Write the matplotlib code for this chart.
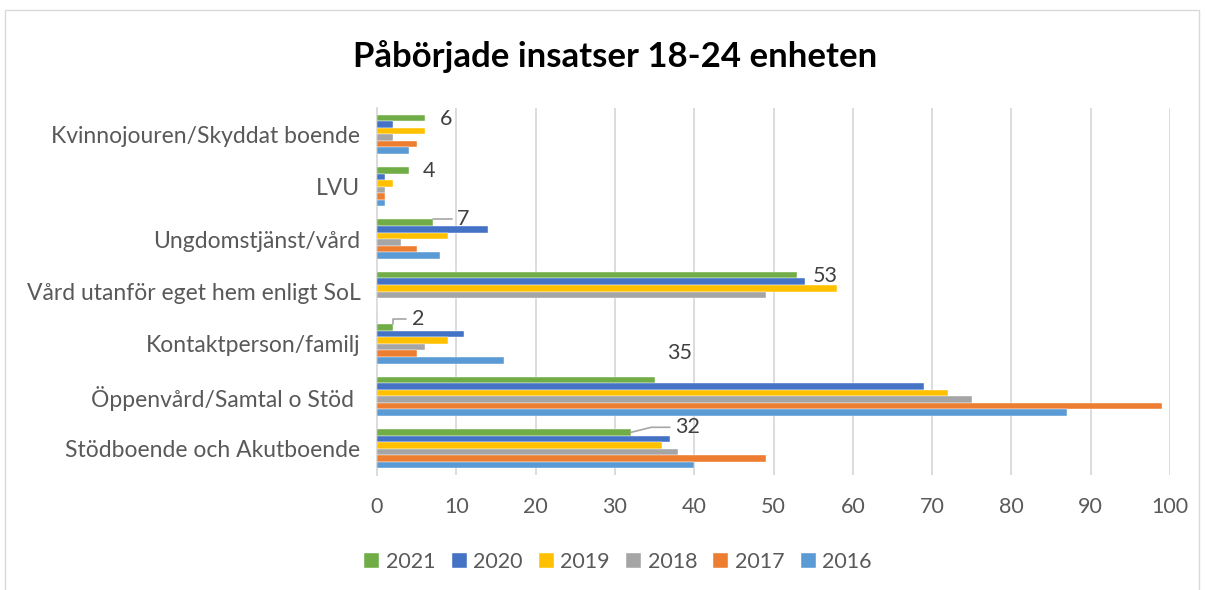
import numpy as np
import matplotlib
matplotlib.use("Agg")
import matplotlib.pyplot as plt
from matplotlib.patches import Rectangle

# ---- data -------------------------------------------------------------------
CATEGORIES = ["Stödboende och Akutboende", "Öppenvård/Samtal o Stöd ",
              "Kontaktperson/familj", "Vård utanför eget hem enligt SoL",
              "Ungdomstjänst/vård", "LVU", "Kvinnojouren/Skyddat boende"]
YEARS = ["2021", "2020", "2019", "2018", "2017", "2016"]
V2021 = [32, 35, 2, 53, 7, 4, 6]
V2020 = [37, 69, 11, 54, 14, 1, 2]
V2019 = [36, 72, 9, 58, 9, 2, 6]
V2018 = [38, 75, 6, 49, 3, 1, 2]
V2017 = [49, 99, 5, 0, 5, 1, 5]
V2016 = [40, 87, 16, 0, 8, 1, 4]
XTICKS = list(range(0, 101, 10))

# ---- style --------------------------------------------------------------------
COLORS = ["#70AD47", "#4472C4", "#FFC000", "#A5A5A5", "#ED7D31", "#5B9BD5"]
TEXT = "#595959"
FONT = "Lato"
# where Excel dragged the 2021 labels to (data coords), and leader style
LABEL_POS = [(39.2, 0.41), (38.1, 1.82), (5.2, 2.47), (56.5, 3.29),
             (10.9, 4.38), (6.6, 5.30), (8.7, 6.29)]
LEADER = [14, None, 90, None, 90, None, None]

plt.rcParams["font.family"] = [FONT, "DejaVu Sans"]

fig = plt.figure(figsize=(12.05, 5.9), dpi=100)
ax = fig.add_axes([377 / 1205, 1 - 475 / 590, (1170 - 377) / 1205, 367 / 590])

series = [V2021, V2020, V2019, V2018, V2017, V2016]
y = np.arange(len(CATEGORIES))
h = 0.125
for i, (vals, col, yr) in enumerate(zip(series, COLORS, YEARS)):
    ax.barh(y + (2.5 - i) * h, vals, height=h, color=col, label=yr,
            edgecolor="white", linewidth=0.3, zorder=3)

# data labels for 2021
for j, v in enumerate(V2021):
    tx, ty = LABEL_POS[j]
    by = y[j] + 2.5 * h
    if LEADER[j] is None:
        ax.text(tx, ty, str(v), ha="center", va="center", fontsize=15.5,
                color="#404040")
    else:
        ax.annotate(str(v), xy=(v, by + h / 2 if LEADER[j] == 90 else by),
                    xytext=(tx, ty), ha="center", va="center", fontsize=15.5,
                    color="#404040",
                    arrowprops=dict(arrowstyle="-", color="#A6A6A6", lw=1.2,
                                    relpos=(0, 0.5), shrinkA=2, shrinkB=0,
                                    connectionstyle="angle,angleA=0,angleB=%d,rad=0"
                                    % LEADER[j]))

ax.set_xlim(0, 100)
ax.set_ylim(-0.5, len(CATEGORIES) - 0.5)
ax.set_xticks(XTICKS)
ax.set_yticks(y)
ax.set_yticklabels(CATEGORIES)
ax.tick_params(axis="x", length=0, pad=16, labelsize=15.5, labelcolor=TEXT)
ax.tick_params(axis="y", length=0, pad=12, labelsize=16.5, labelcolor=TEXT)
ax.grid(axis="x", color="#D9D9D9", lw=1.3, zorder=0)
for s in ["top", "right", "bottom"]:
    ax.spines[s].set_visible(False)
ax.spines["left"].set_color("#D9D9D9")
ax.spines["left"].set_linewidth(1.3)

fig.text(615 / 1205, 1 - 57 / 590, "Påbörjade insatser 18-24 enheten",
         ha="center", va="center", fontsize=25, fontweight="bold",
         color="black")

fig.legend(loc="center", bbox_to_anchor=(618 / 1205, 1 - 562 / 590), ncol=6,
           frameon=False, fontsize=15.5, labelcolor=TEXT, handlelength=0.7,
           handleheight=0.7, handletextpad=0.3, columnspacing=0.75)

fig.patches.append(Rectangle((5 / 1205, -0.1), 1194 / 1205, 1.1 - 10 / 590,
                             transform=fig.transFigure, fill=False,
                             edgecolor="#D9D9D9", lw=1))

fig.savefig("out.png", dpi=100)
